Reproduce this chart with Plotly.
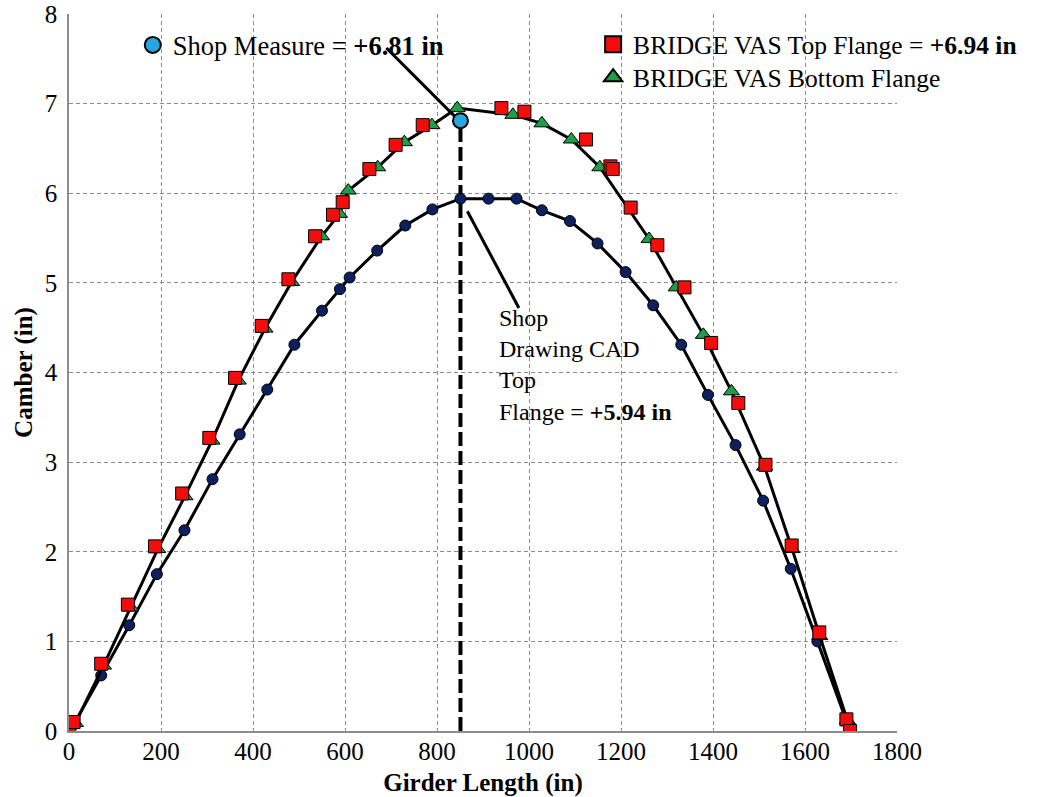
import plotly.graph_objects as go

# ---- data (inches) ----
top_x = [0, 10, 70, 128, 187, 246, 305, 361, 419, 477, 535, 574, 595, 653, 710, 769,
         940, 990, 1124, 1177, 1182, 1221, 1279, 1338, 1396, 1455, 1514, 1571, 1631, 1690, 1698]
top_y = [0.0, 0.10, 0.75, 1.41, 2.06, 2.65, 3.27, 3.94, 4.52, 5.04, 5.52, 5.76, 5.90, 6.27, 6.54, 6.76,
         6.95, 6.91, 6.60, 6.30, 6.27, 5.84, 5.42, 4.95, 4.33, 3.66, 2.97, 2.07, 1.10, 0.13, 0.0]

bot_x = [0, 14, 75, 134, 193, 252, 311, 368, 426, 484, 549, 588, 607, 671, 729, 789,
         844, 965, 1028, 1092, 1154, 1261, 1320, 1379, 1440, 1512, 1572, 1632, 1692, 1698]
bot_y = [0.0, 0.09, 0.73, 1.38, 2.03, 2.62, 3.24, 3.91, 4.49, 5.01, 5.52, 5.77, 6.03, 6.29, 6.57, 6.76,
         6.95, 6.875, 6.78, 6.60, 6.29, 5.49, 4.95, 4.42, 3.79, 2.95, 2.03, 1.06, 0.12, 0.0]

cad_x = [0, 10, 70, 131, 191, 251, 312, 371, 431, 490, 550, 589, 610, 670, 731, 790,
         851, 912, 973, 1028, 1089, 1149, 1210, 1270, 1331, 1389, 1449, 1509, 1569, 1627, 1690, 1698]
cad_y = [0.0, 0.07, 0.62, 1.18, 1.75, 2.24, 2.81, 3.31, 3.81, 4.31, 4.69, 4.93, 5.06, 5.36, 5.64, 5.82,
         5.94, 5.94, 5.94, 5.81, 5.69, 5.44, 5.12, 4.75, 4.31, 3.75, 3.19, 2.57, 1.81, 1.00, 0.10, 0.0]

shop_x = [851]
shop_y = [6.81]

x_ticks = [0, 200, 400, 600, 800, 1000, 1200, 1400, 1600, 1800]
y_ticks = [0, 1, 2, 3, 4, 5, 6, 7, 8]

FONT = "Liberation Serif"
RED = "#f20d0d"
GREEN = "#1e9e48"
NAVY = "#0c1f5e"
BLUE = "#2aa6de"

fig = go.Figure()

# vertical dashed line at the shop-measure location
fig.add_trace(go.Scatter(x=[shop_x[0], shop_x[0]], y=[0, shop_y[0]], mode="lines",
                         line=dict(color="black", width=4, dash="14px,5px"),
                         showlegend=False, hoverinfo="skip"))

# Shop drawing CAD top flange
fig.add_trace(go.Scatter(x=cad_x, y=cad_y, mode="lines+markers", name="Shop Drawing CAD Top Flange",
                         line=dict(color="black", width=3),
                         marker=dict(symbol="circle", size=11, color=NAVY,
                                     line=dict(color="black", width=1)),
                         showlegend=False))

# BRIDGE VAS bottom flange: connecting line + markers
fig.add_trace(go.Scatter(x=bot_x, y=bot_y, mode="lines", line=dict(color="black", width=3),
                         showlegend=False, hoverinfo="skip"))
fig.add_trace(go.Scatter(x=bot_x, y=bot_y, mode="markers", name="BRIDGE VAS Bottom Flange",
                         marker=dict(symbol="triangle-up", size=14, color=GREEN,
                                     line=dict(color="black", width=1)),
                         showlegend=False))

# BRIDGE VAS top flange
fig.add_trace(go.Scatter(x=top_x, y=top_y, mode="markers",
                         name="BRIDGE VAS Top Flange",
                         marker=dict(symbol="square", size=13, color=RED,
                                     line=dict(color="black", width=1)),
                         showlegend=False))

# shop measure
fig.add_trace(go.Scatter(x=shop_x, y=shop_y, mode="markers", name="Shop Measure",
                         marker=dict(symbol="circle", size=15, color=BLUE,
                                     line=dict(color="black", width=2)),
                         showlegend=False))

# legend entries (no data, larger legend symbols)
fig.add_trace(go.Scatter(x=[None], y=[None], mode="markers",
                         name="BRIDGE VAS Top Flange = <b>+6.94 in</b>",
                         marker=dict(symbol="square", size=16, color=RED,
                                     line=dict(color="black", width=2)),
                         legend="legend"))
fig.add_trace(go.Scatter(x=[None], y=[None], mode="markers",
                         name="BRIDGE VAS Bottom Flange",
                         marker=dict(symbol="triangle-up", size=16, color=GREEN,
                                     line=dict(color="black", width=2)),
                         legend="legend3"))
fig.add_trace(go.Scatter(x=[None], y=[None], mode="markers",
                         name="Shop Measure = <b>+6.81 in</b>",
                         marker=dict(symbol="circle", size=16, color=BLUE,
                                     line=dict(color="black", width=2)),
                         legend="legend2"))

# leader lines
fig.add_shape(type="line", x0=690, y0=7.62, x1=838, y1=6.86, xref="x", yref="y",
              line=dict(color="black", width=3))
fig.add_shape(type="line", x0=866, y0=5.80, x1=978, y1=4.72, xref="x", yref="y",
              line=dict(color="black", width=3))

fig.add_annotation(x=930, y=4.77, xref="x", yref="y", xanchor="left", yanchor="top",
                   align="left", showarrow=False,
                   text="Shop<br>Drawing CAD<br>Top<br>Flange = <b>+5.94 in</b>",
                   font=dict(family=FONT, size=24, color="black"))

grid = dict(showgrid=True, gridcolor="#8c8c8c", gridwidth=1.3, griddash="4px,3px")
leg = dict(xanchor="left", yanchor="top", bgcolor="rgba(0,0,0,0)",
           itemsizing="trace", itemwidth=30)

fig.update_layout(
    width=1055, height=797, autosize=False,
    margin=dict(l=69, r=158, t=14, b=66),
    plot_bgcolor="white", paper_bgcolor="white",
    font=dict(family=FONT, size=25, color="black"),
    xaxis=dict(range=[0, 1800], tickvals=x_ticks, ticks="", zeroline=False, automargin=False,
               showline=True, linecolor="#8c8c8c", linewidth=1.5, ticklabeloverflow="allow",
               title=dict(text="<b>Girder Length (in)</b>", font=dict(size=25), standoff=10),
               ticklabelstandoff=-3, **grid),
    yaxis=dict(range=[0, 8], tickvals=y_ticks, ticks="", zeroline=False, automargin=False,
               showline=True, linecolor="#8c8c8c", linewidth=1.5, ticklabeloverflow="allow",
               title=dict(text="<b>Camber (in)</b>", font=dict(size=25), standoff=5),
               ticklabelstandoff=5, **grid),
    legend=dict(x=0.633, y=0.99, font=dict(family=FONT, size=25.5), **leg),
    legend3=dict(x=0.633, y=0.944, font=dict(family=FONT, size=25.5), **leg),
    legend2=dict(x=0.077, y=0.99, font=dict(family=FONT, size=26.5), **leg),
    showlegend=True,
)

fig.write_html("out.html", config={"displayModeBar": False},
               post_script="document.body.style.margin='0';document.body.style.overflow='hidden';")
